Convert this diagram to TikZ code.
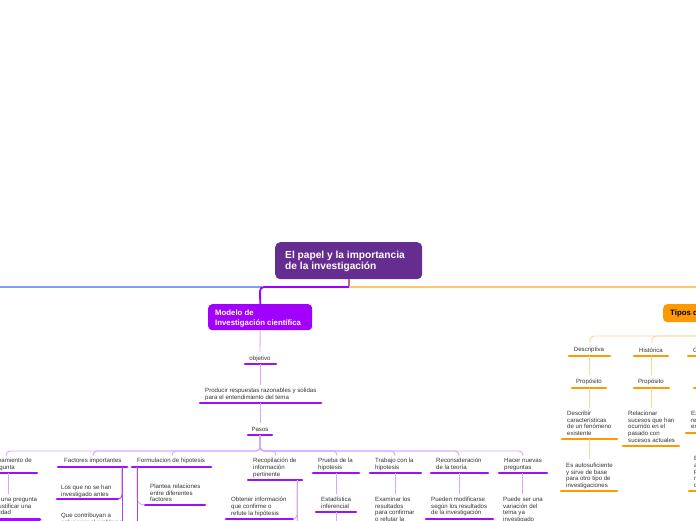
\documentclass[tikz,border=0pt]{standalone}
\usepackage{fontspec}
\setmainfont{Liberation Sans}
\definecolor{rootc}{HTML}{662D91}
\definecolor{vio}{HTML}{A100FF}
\definecolor{ulv}{HTML}{9E10F5}
\definecolor{lv}{HTML}{D9A6FF}
\definecolor{org}{HTML}{FF9900}
\definecolor{lorg}{HTML}{FFD49A}
\definecolor{morg}{HTML}{FFC46E}
\definecolor{blu}{HTML}{7F9FF5}
\definecolor{txt}{HTML}{333333}
\definecolor{rootbr}{HTML}{B86A78}
\tikzset{
 txtn/.style={anchor=north west, inner sep=0pt, align=left, text=txt, yshift=-1.5pt, font=\fontsize{6.1}{6.65}\selectfont},
 txtc/.style={anchor=center, inner sep=0pt, text=txt, yshift=-1pt, font=\fontsize{6.1}{6.65}\selectfont},
 ulp/.style={line width=2.6pt, line cap=round, draw=ulv},
 ulo/.style={line width=2.6pt, line cap=round, draw=org},
 conp/.style={draw=lv, line width=0.9pt, rounded corners=4pt},
 cond/.style={draw=ulv!80, line width=1pt, rounded corners=4pt},
 cono/.style={draw=lorg, line width=0.9pt, rounded corners=4pt},
 boxlbl/.style={anchor=north west, inner sep=0pt, align=left},
}
\begin{document}
\begin{tikzpicture}[x=1pt,y=-1pt]
\useasboundingbox (0,0) rectangle (696,520);
\fill[white] (0,0) rectangle (696,520);
\clip (0,0) rectangle (696,520);

% root
\node (root) [anchor=north west, fill=rootc, rounded corners=5pt, minimum width=147pt, minimum height=37pt, inner sep=0pt] at (275,242) {};
\node (rootlbl) [boxlbl, text=white, font=\bfseries\fontsize{10.2}{11}\selectfont] at (285,251) {El papel y la importancia\\de la investigación};
\coordinate (rb) at (349,279);
\coordinate (junc) at (349,287);
\draw[rootbr, line width=1.5pt] (rb) -- (junc);
\coordinate (blueend) at (-5,287);
\coordinate (orgend) at (705,287);
\draw[blu, line width=1.8pt] (blueend) -- (262,287);
\draw[morg, line width=1.8pt] (junc) -- (orgend);

% Modelo
\node (modelo) [anchor=north west, fill=vio, rounded corners=4pt, minimum width=104pt, minimum height=26pt, inner sep=0pt] at (208,304) {};
\node (modelolbl) [boxlbl, text=white, font=\bfseries\fontsize{7.8}{10}\selectfont] at (215,309.3) {Modelo de\\Investigación científica};
\draw[vio, line width=1.8pt, rounded corners=4pt] (junc) -- (260,287) -- (modelo.north);

% objetivo
\node (obj) [txtc] at (260,358) {objetivo};
\draw[ulp] (245,364) coordinate (objl) -- (276,364) coordinate (objr);
\draw[conp] (modelo.south) -- (260,352);
\node (prod) [txtn] at (205,386.5) {Producir respuestas razonables y solidas\\para el entendimiento del tema};
\draw[ulp] (200,403) -- (321,403);
\draw[conp] (260,364) -- (260,385);
\node (pasos) [txtc] at (260,428) {Pasos};
\draw[ulp] (248,435) -- (272,435);
\draw[conp] (260,403) -- (260,423);
\coordinate (pb) at (260,435);

% Pasos children
\foreach \cx in {6,93,172,276,337,395,459,523}{
  \draw[conp] (pb) -- (260,451) -- (\cx,451) -- (\cx,456);
}

\node (plan) [txtn] at (-16,456.5) {Planteamiento de\\la pregunta};
\draw[ulp] (-25,473) -- (37,473);
\node (planc) [txtn] at (-17,495.5) {Hacer una pregunta\\para justificar una\\necesidad};
\draw[ulp] (-25,519.5) -- (40,519.5);
\draw[conp] (8,473) -- (8,494);

\node (fact) [txtn] at (64,456.5) {Factores importantes};
\draw[ulp] (58,467) -- (127,467);
\node (fact1) [txtn] at (61,483.5) {Los que no se han\\investigado antes};
\draw[ulp] (57,499) -- (118,499);
\node (fact2) [txtn] at (61,511.5) {Que contribuyan a\\solucionar el problema};
\draw[cond] (122,467) -- (122,499) -- (118,499);
\draw[cond] (122,467) -- (122,525);

\node (form) [txtn] at (137,456.5) {Formulacion de hipotesis};
\draw[ulp] (132,467) -- (211,467);
\node (form1) [txtn] at (150,482.5) {Plantea relaciones\\entre diferentes\\factores};
\draw[ulp] (145,505) -- (205,505);
\draw[conp, rounded corners=7pt] (137,467) -- (137,505) -- (145,505);
\draw[cond] (137,467) -- (137,525);

\node (reco) [txtn] at (253,456.5) {Recopilación de\\información\\pertinente};
\draw[ulp] (248,480) -- (302,480);
\node (reco1) [txtn] at (231,495.5) {Obtener información\\que confirme o\\refute la hipótesis};
\draw[ulp] (226,519) -- (293,519);
\draw[conp] (297,480) -- (297,519) -- (293,519);
\draw[conp] (297,480) -- (297,525);

\node (prue) [txtn] at (318,456.5) {Prueba de la\\hipotesis};
\draw[ulp] (313,473) -- (359,473);
\node (prue1) [txtn] at (321,495.5) {Estadística\\inferencial};
\draw[ulp] (316,512) -- (356,512);
\draw[conp] (336,473) -- (336,494);
\draw[conp] (336,512) -- (336,525);

\node (trab) [txtn] at (375,456.5) {Trabajo con la\\hipotesis};
\draw[ulp] (370,473) -- (421,473);
\node (trab1) [txtn] at (375,495.5) {Examinar los\\resultados\\para confirmar\\o refutar la\\hipótesis};
\draw[conp] (395,473) -- (395,494);

\node (reco2) [txtn] at (436,456.5) {Reconsideración\\de la teoría};
\draw[ulp] (431,473) -- (488,473);
\node (reco3) [txtn] at (431,495.5) {Pueden modificarse\\según los resultados\\de la investigación};
\draw[ulp] (426,519) -- (493,519);
\draw[conp] (459,473) -- (459,494);

\node (hace) [txtn] at (504,456.5) {Hacer nuevas\\preguntas};
\draw[ulp] (499,473) -- (547,473);
\node (hace1) [txtn] at (503,495.5) {Puede ser una\\variación del\\tema ya\\investigado};
\draw[conp] (522,473) -- (522,494);

% Tipos
\node (tipos) [anchor=north west, fill=org, rounded corners=4pt, minimum width=100pt, minimum height=18pt, inner sep=0pt] at (663,304) {};
\node (tiposlbl) [boxlbl, text=black, font=\bfseries\fontsize{7.8}{9}\selectfont] at (670,309.3) {Tipos de investigación};
\coordinate (tb) at (707,322);
\foreach \cx in {590,652,712}{
  \draw[cono] (tb) -- (707,336) -- (\cx,336) -- (\cx,343);
}

\node (desc) [txtc] at (589,349) {Descriptiva};
\draw[ulo] (569,356) -- (610,356);
\node (dprop) [txtc] at (589,381) {Propósito};
\draw[ulo] (572,388) -- (606,388);
\draw[cono] (589,356) -- (589,375);
\node (ddesc) [txtn] at (567,409.5) {Describir\\características\\de un fenómeno\\existente};
\draw[ulo] (562,439) -- (617,439);
\draw[cono] (589,388) -- (589,408);
\node (des2) [txtn] at (566,461.5) {Es autosuficiente\\y sirve de base\\para otro tipo de\\investigaciones};
\draw[ulo] (561,491) -- (617,491);
\draw[cono] (589,439) -- (589,459);

\node (hist) [txtc] at (651,349) {Histórica};
\draw[ulo] (634,356) -- (668,356);
\node (hprop) [txtc] at (651,381) {Propósito};
\draw[ulo] (634,388) -- (669,388);
\draw[cono] (651,356) -- (651,375);
\node (hrel) [txtn] at (628,409.5) {Relacionar\\sucesos que han\\ocurrido en el\\pasado con\\sucesos actuales};
\draw[ulo] (623,446) -- (679,446);
\draw[cono] (651,388) -- (651,408);

\node (corr) [txtn] at (693,346) {Correlacional};
\draw[ulo] (688,356) -- (735,356);
\node (cprop) [txtn] at (699,378) {Propósito};
\draw[ulo] (694,388) -- (730,388);
\node (cexa) [txtn] at (691,409.5) {Examinar\\relaciones\\entre variables};
\draw[ulo] (686,433) -- (745,433);
\node (cest) [txtn] at (694,454.5) {Establece\\asociaciones\\para predecir\\resultados\\comparables};
\draw[ulo] (689,491) -- (750,491);
\end{tikzpicture}
\end{document}
